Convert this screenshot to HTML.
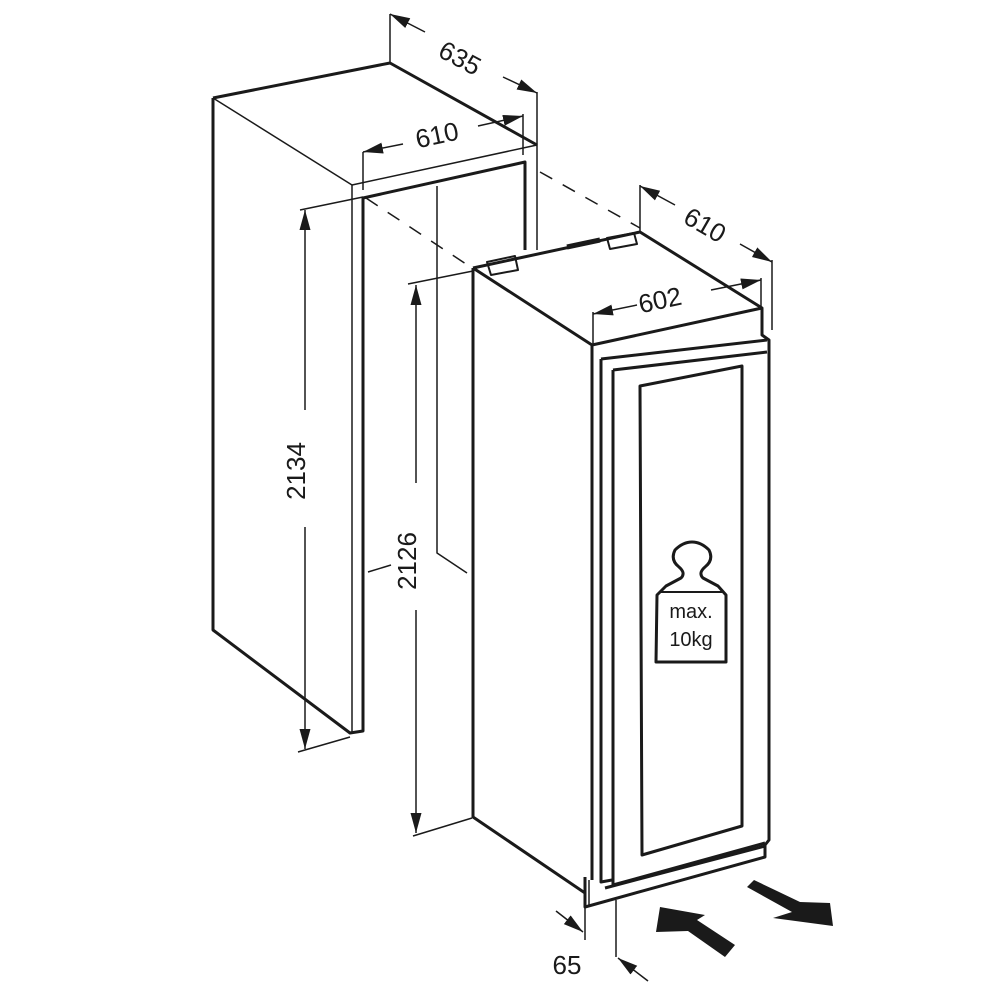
<!DOCTYPE html>
<html><head><meta charset="utf-8"><style>html,body{margin:0;padding:0;background:#fff}svg{display:block}</style></head>
<body>
<svg width="1000" height="1000" viewBox="0 0 1000 1000" xmlns="http://www.w3.org/2000/svg" font-family="Liberation Sans, sans-serif" fill="none" stroke="#1a1a1a" stroke-linejoin="round">
<defs>
<marker id="ar" viewBox="0 0 20 12" refX="20" refY="6" markerWidth="20" markerHeight="12" markerUnits="userSpaceOnUse" orient="auto"><path d="M0,0.5 L20,6 L0,11.5z" fill="#1a1a1a" stroke="none"/></marker>
</defs>
<!-- NICHE -->
<g stroke-width="3">
<path d="M213,98 L390,63 L537,145"/>
<path d="M213,98 L213,630 L350,733 L363,731 L363,198 L525,162 L525,250"/>
</g>
<g stroke-width="1.5">
<path d="M213,98 L352,185 L537,145 L537,250"/>
<path d="M352,185 L352,733"/>
<path d="M437,186 L437,553 L467,573"/>
<path d="M368,572 L391,565"/>
</g>
<g stroke-width="1.5" stroke-dasharray="14,12">
<path d="M366,198 L472,268"/>
<path d="M540,172 L640,228"/>
</g>
<!-- dims niche -->
<g stroke-width="1.5">
<path d="M390,14 L390,63 M537,92 L537,145"/>
<path d="M363,152 L363,190 M523,114 L523,155"/>
<path d="M300,210 L363,197 M298,752 L350,737"/>
<path d="M408,284 L473,271 M413,836 L472,818"/>
</g>
<g stroke-width="1.5" marker-end="url(#ar)">
<path d="M425,32 L390,14"/><path d="M503,77 L537,93"/>
<path d="M403,144 L363,152"/><path d="M478,126 L523,116"/>
<path d="M305,410 L305,210"/><path d="M305,527 L305,749"/>
<path d="M416,483 L416,285"/><path d="M416,610 L416,833"/>
<path d="M675,205 L640,186"/><path d="M740,244 L772,262"/>
<path d="M637,305 L593,314"/><path d="M711,290 L761,280"/>
<path d="M556,911 L583,932"/><path d="M648,981 L618,958"/>
</g>
<g fill="#1a1a1a" stroke="none" font-size="26">
<text x="460" y="67" text-anchor="middle" transform="rotate(28 460 58)">635</text>
<text x="437" y="144" text-anchor="middle" transform="rotate(-12 437 135)">610</text>
<text x="314" y="480" text-anchor="middle" transform="rotate(-90 305 480)">2134</text>
<text x="425" y="570" text-anchor="middle" transform="rotate(-90 416 570)">2126</text>
<text x="705" y="234" text-anchor="middle" transform="rotate(30 705 225)">610</text>
<text x="660" y="309" text-anchor="middle" transform="rotate(-12 660 300)">602</text>
<text x="567" y="974" text-anchor="middle">65</text>
</g>
<!-- APPLIANCE -->
<g stroke-width="3">
<path d="M473,268 L473,817 L585,893"/>
<path d="M473,268 L592,345 L762,308 L640,232 L473,268"/>
<path d="M762,308 L762,335 L769,340 L769,840 L765,845 L765,857 L585,907 L585,877"/>
<path d="M592,345 L592,880"/>
<path d="M601,359 L767,340 M601,359 L601,882 L612,880"/>
<path d="M613,370 L767,352 M613,370 L613,885 L765,843"/>
<path d="M640,386 L742,366 L742,826 L642,855 Z"/>
<path d="M605,888 L765,846"/>
<path d="M487,262 L491,275 L518,270 L515,256 Z" stroke-width="2"/>
<path d="M607,238 L610,249 L637,244 L634,233 Z" stroke-width="2"/>
<path d="M567,247 L600,240" stroke-width="5"/>
</g>
<g stroke-width="1.5">
<path d="M585,907 L585,940 M616,900 L616,957"/>
<path d="M593,312 L593,345 M761,278 L761,308 M640,185 L640,232 M772,260 L772,330"/>
<path d="M589,880 L589,905"/>
</g>
<!-- weight -->
<path d="M657,595 L666,586 L681,578 Q686,573 679,567 Q670,560 675,550 Q683,542 692,542 Q701,542 709,550 Q714,560 705,567 Q698,573 703,578 L718,586 L726,595 L726,662 L656,662 Z" stroke-width="3"/>
<path d="M660,592 L724,592" stroke-width="2"/>
<g fill="#1a1a1a" stroke="none" font-size="20" text-anchor="middle">
<text x="691" y="618">max.</text>
<text x="691" y="646">10kg</text>
</g>
<!-- big arrows -->
<path d="M656,932 L660,907 L705,915 L697,920 L735,945 L725,957 L688,931 Z" fill="#1a1a1a" stroke="none"/>
<path d="M747,887 L754,880 L800,902 L830,903 L833,926 L773,918 L792,912 Z" fill="#1a1a1a" stroke="none"/>
</svg>
</body></html>
